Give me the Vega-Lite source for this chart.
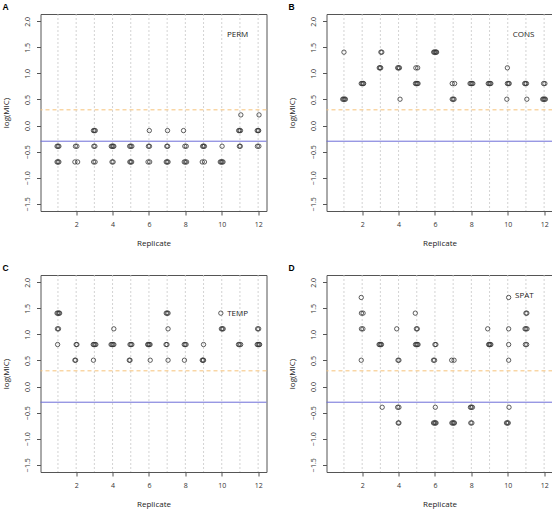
{
"$schema":"https://vega.github.io/schema/vega-lite/v6.json",
"padding":{"left":1.5,"top":2,"right":0,"bottom":0},
"bounds":"flush",
"columns":2,
"spacing":{"row":64,"column":60},
"config":{
 "font":"Open Sans",
 "view":{"stroke":"#555","strokeWidth":1},
 "axis":{"domain":false,"grid":false,"tickColor":"#555","tickSize":4,"tickWidth":1,"labelFontSize":7,"labelColor":"#333","titleFontSize":8,"titleFontWeight":"normal","titleColor":"#222","labelFont":"Open Sans","titleFont":"Open Sans","labelOverlap":false,"labelBound":false},
 "axisX":{"labelPadding":5,"titlePadding":12,"labelFlush":false,"labelOverlap":false,"titleFontWeight":"normal"},
 "axisY":{"labelAngle":270,"labelAlign":"center","labelBaseline":"bottom","labelPadding":6,"titlePadding":13,"labelFlush":false,"labelOverlap":false,"titleFontWeight":"normal"},
 "title":{"anchor":"start","frame":"bounds","fontSize":8.5,"font":"Liberation Sans","fontWeight":"bold","offset":2,"color":"#000"}
},
"datasets":{
 "reps":[{"x":1},{"x":2},{"x":3},{"x":4},{"x":5},{"x":6},{"x":7},{"x":8},{"x":9},{"x":10},{"x":11},{"x":12}],
 "pts":[
  {"p":"A","x":0.95,"y":-0.398},{"p":"A","x":1.0,"y":-0.398},{"p":"A","x":1.05,"y":-0.398},
  {"p":"A","x":0.95,"y":-0.699},{"p":"A","x":1.0,"y":-0.699},{"p":"A","x":1.05,"y":-0.699},
  {"p":"A","x":1.96,"y":-0.398},{"p":"A","x":2.04,"y":-0.398},
  {"p":"A","x":1.93,"y":-0.699},{"p":"A","x":2.08,"y":-0.699},
  {"p":"A","x":2.95,"y":-0.097},{"p":"A","x":3.0,"y":-0.097},{"p":"A","x":3.05,"y":-0.097},
  {"p":"A","x":2.97,"y":-0.398},{"p":"A","x":3.03,"y":-0.398},
  {"p":"A","x":2.96,"y":-0.699},{"p":"A","x":3.04,"y":-0.699},
  {"p":"A","x":3.93,"y":-0.398},{"p":"A","x":3.98,"y":-0.398},{"p":"A","x":4.03,"y":-0.398},{"p":"A","x":4.07,"y":-0.398},
  {"p":"A","x":3.97,"y":-0.699},{"p":"A","x":4.03,"y":-0.699},
  {"p":"A","x":4.94,"y":-0.398},{"p":"A","x":5.0,"y":-0.398},{"p":"A","x":5.06,"y":-0.398},
  {"p":"A","x":4.95,"y":-0.699},{"p":"A","x":5.0,"y":-0.699},{"p":"A","x":5.05,"y":-0.699},
  {"p":"A","x":6.02,"y":-0.097},
  {"p":"A","x":5.97,"y":-0.398},{"p":"A","x":6.03,"y":-0.398},
  {"p":"A","x":5.95,"y":-0.699},{"p":"A","x":6.04,"y":-0.699},
  {"p":"A","x":7.02,"y":-0.097},
  {"p":"A","x":6.98,"y":-0.398},{"p":"A","x":7.03,"y":-0.398},
  {"p":"A","x":6.95,"y":-0.699},{"p":"A","x":7.0,"y":-0.699},{"p":"A","x":7.05,"y":-0.699},
  {"p":"A","x":7.9,"y":-0.097},
  {"p":"A","x":7.97,"y":-0.398},{"p":"A","x":8.05,"y":-0.398},
  {"p":"A","x":7.94,"y":-0.699},{"p":"A","x":8.0,"y":-0.699},{"p":"A","x":8.07,"y":-0.699},
  {"p":"A","x":8.95,"y":-0.398},{"p":"A","x":9.0,"y":-0.398},{"p":"A","x":9.05,"y":-0.398},
  {"p":"A","x":8.93,"y":-0.699},{"p":"A","x":9.05,"y":-0.699},
  {"p":"A","x":10.02,"y":-0.398},
  {"p":"A","x":9.92,"y":-0.699},{"p":"A","x":9.97,"y":-0.699},{"p":"A","x":10.02,"y":-0.699},{"p":"A","x":10.07,"y":-0.699},
  {"p":"A","x":11.05,"y":0.204},
  {"p":"A","x":10.93,"y":-0.097},{"p":"A","x":10.98,"y":-0.097},{"p":"A","x":11.03,"y":-0.097},
  {"p":"A","x":10.97,"y":-0.398},{"p":"A","x":11.02,"y":-0.398},
  {"p":"A","x":12.05,"y":0.204},
  {"p":"A","x":11.95,"y":-0.097},{"p":"A","x":12.0,"y":-0.097},{"p":"A","x":12.03,"y":-0.097},
  {"p":"A","x":11.96,"y":-0.398},{"p":"A","x":12.04,"y":-0.398},

  {"p":"B","x":1.0,"y":1.408},
  {"p":"B","x":0.93,"y":0.505},{"p":"B","x":0.98,"y":0.505},{"p":"B","x":1.03,"y":0.505},{"p":"B","x":1.08,"y":0.505},
  {"p":"B","x":1.95,"y":0.806},{"p":"B","x":2.0,"y":0.806},{"p":"B","x":2.05,"y":0.806},{"p":"B","x":2.08,"y":0.806},
  {"p":"B","x":3.03,"y":1.408},{"p":"B","x":3.08,"y":1.408},
  {"p":"B","x":2.94,"y":1.107},{"p":"B","x":2.98,"y":1.107},{"p":"B","x":3.02,"y":1.107},
  {"p":"B","x":3.95,"y":1.107},{"p":"B","x":4.0,"y":1.107},{"p":"B","x":4.05,"y":1.107},
  {"p":"B","x":4.08,"y":0.505},
  {"p":"B","x":4.95,"y":1.107},{"p":"B","x":5.05,"y":1.107},
  {"p":"B","x":4.93,"y":0.806},{"p":"B","x":4.98,"y":0.806},{"p":"B","x":5.03,"y":0.806},{"p":"B","x":5.07,"y":0.806},
  {"p":"B","x":5.93,"y":1.408},{"p":"B","x":5.97,"y":1.408},{"p":"B","x":6.02,"y":1.408},{"p":"B","x":6.06,"y":1.408},{"p":"B","x":6.09,"y":1.408},
  {"p":"B","x":6.95,"y":0.806},{"p":"B","x":7.08,"y":0.806},
  {"p":"B","x":6.95,"y":0.505},{"p":"B","x":7.0,"y":0.505},{"p":"B","x":7.05,"y":0.505},
  {"p":"B","x":7.93,"y":0.806},{"p":"B","x":7.98,"y":0.806},{"p":"B","x":8.03,"y":0.806},{"p":"B","x":8.08,"y":0.806},
  {"p":"B","x":8.93,"y":0.806},{"p":"B","x":8.98,"y":0.806},{"p":"B","x":9.03,"y":0.806},{"p":"B","x":9.07,"y":0.806},
  {"p":"B","x":9.98,"y":1.107},
  {"p":"B","x":9.98,"y":0.806},{"p":"B","x":10.04,"y":0.806},{"p":"B","x":10.08,"y":0.806},
  {"p":"B","x":9.95,"y":0.505},
  {"p":"B","x":10.93,"y":0.806},{"p":"B","x":10.98,"y":0.806},{"p":"B","x":11.03,"y":0.806},
  {"p":"B","x":11.05,"y":0.505},
  {"p":"B","x":11.97,"y":0.806},{"p":"B","x":12.04,"y":0.806},
  {"p":"B","x":11.92,"y":0.505},{"p":"B","x":11.97,"y":0.505},{"p":"B","x":12.02,"y":0.505},{"p":"B","x":12.07,"y":0.505},

  {"p":"C","x":0.95,"y":1.408},{"p":"C","x":1.0,"y":1.408},{"p":"C","x":1.05,"y":1.408},{"p":"C","x":1.09,"y":1.408},
  {"p":"C","x":0.97,"y":1.107},{"p":"C","x":1.03,"y":1.107},
  {"p":"C","x":0.98,"y":0.806},
  {"p":"C","x":2.0,"y":0.806},{"p":"C","x":2.04,"y":0.806},
  {"p":"C","x":1.93,"y":0.505},{"p":"C","x":1.97,"y":0.505},
  {"p":"C","x":2.94,"y":0.806},{"p":"C","x":2.98,"y":0.806},{"p":"C","x":3.03,"y":0.806},{"p":"C","x":3.08,"y":0.806},
  {"p":"C","x":2.95,"y":0.505},
  {"p":"C","x":4.07,"y":1.107},
  {"p":"C","x":3.92,"y":0.806},{"p":"C","x":3.97,"y":0.806},{"p":"C","x":4.02,"y":0.806},{"p":"C","x":4.07,"y":0.806},
  {"p":"C","x":4.96,"y":0.806},{"p":"C","x":5.01,"y":0.806},{"p":"C","x":5.06,"y":0.806},
  {"p":"C","x":4.92,"y":0.505},{"p":"C","x":4.96,"y":0.505},
  {"p":"C","x":5.93,"y":0.806},{"p":"C","x":5.97,"y":0.806},{"p":"C","x":6.02,"y":0.806},{"p":"C","x":6.06,"y":0.806},
  {"p":"C","x":6.07,"y":0.505},
  {"p":"C","x":6.95,"y":1.408},{"p":"C","x":7.0,"y":1.408},{"p":"C","x":7.05,"y":1.408},
  {"p":"C","x":7.05,"y":1.107},
  {"p":"C","x":6.94,"y":0.806},{"p":"C","x":6.99,"y":0.806},
  {"p":"C","x":7.05,"y":0.505},
  {"p":"C","x":7.94,"y":0.806},{"p":"C","x":7.99,"y":0.806},{"p":"C","x":8.04,"y":0.806},
  {"p":"C","x":7.95,"y":0.505},
  {"p":"C","x":9.0,"y":0.806},
  {"p":"C","x":8.93,"y":0.505},{"p":"C","x":8.97,"y":0.505},{"p":"C","x":9.0,"y":0.505},
  {"p":"C","x":9.95,"y":1.408},
  {"p":"C","x":9.98,"y":1.107},{"p":"C","x":10.03,"y":1.107},{"p":"C","x":10.08,"y":1.107},
  {"p":"C","x":10.92,"y":0.806},{"p":"C","x":10.97,"y":0.806},{"p":"C","x":11.04,"y":0.806},
  {"p":"C","x":11.97,"y":1.107},{"p":"C","x":12.03,"y":1.107},
  {"p":"C","x":11.95,"y":0.806},{"p":"C","x":12.0,"y":0.806},{"p":"C","x":12.05,"y":0.806},{"p":"C","x":12.08,"y":0.806},

  {"p":"D","x":1.95,"y":1.709},
  {"p":"D","x":1.96,"y":1.408},{"p":"D","x":2.05,"y":1.408},
  {"p":"D","x":1.96,"y":1.107},{"p":"D","x":2.04,"y":1.107},
  {"p":"D","x":1.95,"y":0.505},
  {"p":"D","x":2.93,"y":0.806},{"p":"D","x":2.97,"y":0.806},{"p":"D","x":3.02,"y":0.806},{"p":"D","x":3.06,"y":0.806},
  {"p":"D","x":3.1,"y":-0.398},
  {"p":"D","x":3.9,"y":1.107},
  {"p":"D","x":3.97,"y":0.505},{"p":"D","x":4.02,"y":0.505},
  {"p":"D","x":3.95,"y":-0.398},{"p":"D","x":4.02,"y":-0.398},
  {"p":"D","x":3.98,"y":-0.699},{"p":"D","x":4.02,"y":-0.699},
  {"p":"D","x":4.92,"y":1.408},
  {"p":"D","x":4.98,"y":1.107},{"p":"D","x":5.03,"y":1.107},
  {"p":"D","x":4.93,"y":0.806},{"p":"D","x":4.98,"y":0.806},{"p":"D","x":5.03,"y":0.806},{"p":"D","x":5.07,"y":0.806},
  {"p":"D","x":6.0,"y":0.806},{"p":"D","x":6.05,"y":0.806},
  {"p":"D","x":5.92,"y":0.505},{"p":"D","x":5.98,"y":0.505},
  {"p":"D","x":6.02,"y":-0.398},
  {"p":"D","x":5.92,"y":-0.699},{"p":"D","x":5.97,"y":-0.699},{"p":"D","x":6.02,"y":-0.699},{"p":"D","x":6.06,"y":-0.699},
  {"p":"D","x":6.92,"y":0.505},{"p":"D","x":7.05,"y":0.505},
  {"p":"D","x":6.93,"y":-0.699},{"p":"D","x":6.98,"y":-0.699},{"p":"D","x":7.03,"y":-0.699},{"p":"D","x":7.07,"y":-0.699},
  {"p":"D","x":7.95,"y":-0.398},{"p":"D","x":8.0,"y":-0.398},{"p":"D","x":8.06,"y":-0.398},
  {"p":"D","x":7.97,"y":-0.699},{"p":"D","x":8.03,"y":-0.699},
  {"p":"D","x":8.9,"y":1.107},
  {"p":"D","x":8.95,"y":0.806},{"p":"D","x":8.99,"y":0.806},{"p":"D","x":9.03,"y":0.806},{"p":"D","x":9.07,"y":0.806},
  {"p":"D","x":10.05,"y":1.709},
  {"p":"D","x":10.05,"y":1.107},
  {"p":"D","x":10.05,"y":0.806},
  {"p":"D","x":10.05,"y":0.505},
  {"p":"D","x":10.07,"y":-0.398},
  {"p":"D","x":9.93,"y":-0.699},{"p":"D","x":9.98,"y":-0.699},{"p":"D","x":10.03,"y":-0.699},
  {"p":"D","x":11.0,"y":1.408},{"p":"D","x":11.05,"y":1.408},
  {"p":"D","x":10.95,"y":1.107},{"p":"D","x":11.0,"y":1.107},{"p":"D","x":11.06,"y":1.107},
  {"p":"D","x":10.97,"y":0.806},{"p":"D","x":11.04,"y":0.806}
 ]
},
"concat":[
 {"width":226,"height":197,"title":"A",
  "layer":[
   {"data":{"name":"reps"},"mark":{"type":"rule","color":"#c8c8c8","strokeDash":[2,2],"strokeWidth":0.8},
    "encoding":{"x":{"field":"x","type":"quantitative","scale":{"domain":[0.04,12.46],"nice":false,"zero":false}}}},
   {"data":{"values":[{}]},"mark":{"type":"rule","color":"#f6c27a","strokeDash":[4,3],"strokeWidth":1},
    "encoding":{"y":{"datum":0.301,"type":"quantitative"}}},
   {"data":{"values":[{}]},"mark":{"type":"rule","color":"#6e6ed8","strokeWidth":1},
    "encoding":{"y":{"datum":-0.301,"type":"quantitative"}}},
   {"data":{"name":"pts"},"transform":[{"filter":"datum.p === 'A'"}],
    "mark":{"type":"point","shape":"circle","filled":false,"size":19,"stroke":"#333","strokeWidth":0.8,"opacity":1},
    "encoding":{"x":{"field":"x","type":"quantitative","scale":{"domain":[0.04,12.46],"nice":false,"zero":false},"axis":{"values":[2,4,6,8,10,12],"title":"Replicate"}},
     "y":{"field":"y","type":"quantitative","scale":{"domain":[-1.64,2.14],"nice":false,"zero":false},"axis":{"tickCount":8,"format":".1f","title":"log(MIC)"}}}},
   {"data":{"values":[{}]},"mark":{"type":"text","fontSize":8,"color":"#222","font":"Open Sans"},
    "encoding":{"x":{"datum":10.87,"type":"quantitative"},"y":{"datum":1.73,"type":"quantitative"},"text":{"value":"PERM"}}}
  ]},
 {"width":226,"height":197,"title":"B",
  "layer":[
   {"data":{"name":"reps"},"mark":{"type":"rule","color":"#c8c8c8","strokeDash":[2,2],"strokeWidth":0.8},
    "encoding":{"x":{"field":"x","type":"quantitative","scale":{"domain":[0.04,12.46],"nice":false,"zero":false}}}},
   {"data":{"values":[{}]},"mark":{"type":"rule","color":"#f6c27a","strokeDash":[4,3],"strokeWidth":1},
    "encoding":{"y":{"datum":0.301,"type":"quantitative"}}},
   {"data":{"values":[{}]},"mark":{"type":"rule","color":"#6e6ed8","strokeWidth":1},
    "encoding":{"y":{"datum":-0.301,"type":"quantitative"}}},
   {"data":{"name":"pts"},"transform":[{"filter":"datum.p === 'B'"}],
    "mark":{"type":"point","shape":"circle","filled":false,"size":19,"stroke":"#333","strokeWidth":0.8,"opacity":1},
    "encoding":{"x":{"field":"x","type":"quantitative","scale":{"domain":[0.04,12.46],"nice":false,"zero":false},"axis":{"values":[2,4,6,8,10,12],"title":"Replicate"}},
     "y":{"field":"y","type":"quantitative","scale":{"domain":[-1.64,2.14],"nice":false,"zero":false},"axis":{"tickCount":8,"format":".1f","title":"log(MIC)"}}}},
   {"data":{"values":[{}]},"mark":{"type":"text","fontSize":8,"color":"#222","font":"Open Sans"},
    "encoding":{"x":{"datum":10.87,"type":"quantitative"},"y":{"datum":1.73,"type":"quantitative"},"text":{"value":"CONS"}}}
  ]},
 {"width":226,"height":197,"title":"C",
  "layer":[
   {"data":{"name":"reps"},"mark":{"type":"rule","color":"#c8c8c8","strokeDash":[2,2],"strokeWidth":0.8},
    "encoding":{"x":{"field":"x","type":"quantitative","scale":{"domain":[0.04,12.46],"nice":false,"zero":false}}}},
   {"data":{"values":[{}]},"mark":{"type":"rule","color":"#f6c27a","strokeDash":[4,3],"strokeWidth":1},
    "encoding":{"y":{"datum":0.301,"type":"quantitative"}}},
   {"data":{"values":[{}]},"mark":{"type":"rule","color":"#6e6ed8","strokeWidth":1},
    "encoding":{"y":{"datum":-0.301,"type":"quantitative"}}},
   {"data":{"name":"pts"},"transform":[{"filter":"datum.p === 'C'"}],
    "mark":{"type":"point","shape":"circle","filled":false,"size":19,"stroke":"#333","strokeWidth":0.8,"opacity":1},
    "encoding":{"x":{"field":"x","type":"quantitative","scale":{"domain":[0.04,12.46],"nice":false,"zero":false},"axis":{"values":[2,4,6,8,10,12],"title":"Replicate"}},
     "y":{"field":"y","type":"quantitative","scale":{"domain":[-1.64,2.14],"nice":false,"zero":false},"axis":{"tickCount":8,"format":".1f","title":"log(MIC)"}}}},
   {"data":{"values":[{}]},"mark":{"type":"text","fontSize":8,"color":"#222","font":"Open Sans"},
    "encoding":{"x":{"datum":10.87,"type":"quantitative"},"y":{"datum":1.39,"type":"quantitative"},"text":{"value":"TEMP"}}}
  ]},
 {"width":226,"height":197,"title":"D",
  "layer":[
   {"data":{"name":"reps"},"mark":{"type":"rule","color":"#c8c8c8","strokeDash":[2,2],"strokeWidth":0.8},
    "encoding":{"x":{"field":"x","type":"quantitative","scale":{"domain":[0.04,12.46],"nice":false,"zero":false}}}},
   {"data":{"values":[{}]},"mark":{"type":"rule","color":"#f6c27a","strokeDash":[4,3],"strokeWidth":1},
    "encoding":{"y":{"datum":0.301,"type":"quantitative"}}},
   {"data":{"values":[{}]},"mark":{"type":"rule","color":"#6e6ed8","strokeWidth":1},
    "encoding":{"y":{"datum":-0.301,"type":"quantitative"}}},
   {"data":{"name":"pts"},"transform":[{"filter":"datum.p === 'D'"}],
    "mark":{"type":"point","shape":"circle","filled":false,"size":19,"stroke":"#333","strokeWidth":0.8,"opacity":1},
    "encoding":{"x":{"field":"x","type":"quantitative","scale":{"domain":[0.04,12.46],"nice":false,"zero":false},"axis":{"values":[2,4,6,8,10,12],"title":"Replicate"}},
     "y":{"field":"y","type":"quantitative","scale":{"domain":[-1.64,2.14],"nice":false,"zero":false},"axis":{"tickCount":8,"format":".1f","title":"log(MIC)"}}}},
   {"data":{"values":[{}]},"mark":{"type":"text","fontSize":8,"color":"#222","font":"Open Sans","align":"left"},
    "encoding":{"x":{"datum":10.4,"type":"quantitative"},"y":{"datum":1.74,"type":"quantitative"},"text":{"value":"SPAT"}}}
  ]}
]
}
